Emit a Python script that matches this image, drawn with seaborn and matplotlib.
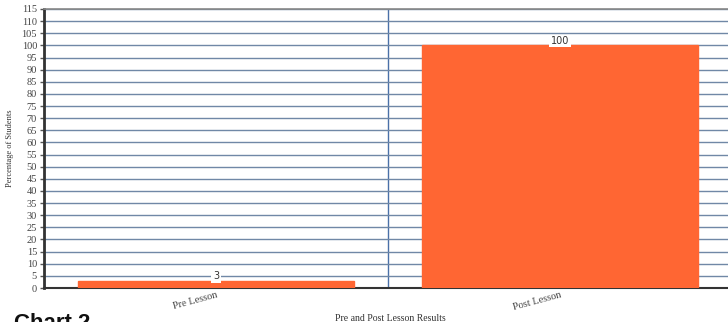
import matplotlib
matplotlib.use("Agg")
import matplotlib.pyplot as plt
import seaborn as sns
import pandas as pd

# Data
categories = ["Pre Lesson", "Post Lesson"]
percentages = [3, 100]
y_ticks = list(range(0, 120, 5))

df = pd.DataFrame({"Lesson": categories, "Percentage": percentages})

sns.set_theme(style="white")
plt.rcParams["font.family"] = ["Liberation Serif", "DejaVu Serif"]

fig = plt.figure(figsize=(7.28, 3.22), dpi=100)
ax = fig.add_axes([44 / 728, 34 / 322, 688 / 728, 279 / 322])

sns.barplot(data=df, x="Lesson", y="Percentage", color="#FF6633",
            saturation=1, width=0.8, ax=ax, zorder=3)
for p in ax.patches:
    p.set_edgecolor("#FF6633")

ax.set_xlim(-0.5, 1.5)
ax.set_ylim(0, 115)
ax.set_yticks(y_ticks)
ax.set_yticklabels([str(v) for v in y_ticks], fontsize=7.5, color="#444444")

# horizontal gridlines
ax.yaxis.grid(True, color="#7088a6", linewidth=1.0, zorder=0)
ax.set_axisbelow(True)

# category separators
ax.set_xticks([-0.5, 0.5, 1.5], minor=True)
ax.xaxis.grid(True, which="minor", color="#4a70a8", linewidth=1.0, zorder=0)
ax.tick_params(axis="x", which="minor", length=3, color="#555555", width=1)
ax.tick_params(axis="x", which="major", length=0, pad=2)
ax.tick_params(axis="y", which="major", length=3, color="#555555", width=1,
               left=True, pad=2)

ax.set_xticks(range(len(categories)))
ax.set_xticklabels(categories, rotation=15, ha="right", rotation_mode="anchor",
                   fontsize=7.5, color="#444444")

ax.spines["right"].set_visible(False)
ax.spines["top"].set_color("#888888")
ax.spines["top"].set_linewidth(1.2)
ax.spines["left"].set_color("#333333")
ax.spines["left"].set_linewidth(2)
ax.spines["bottom"].set_color("#333333")
ax.spines["bottom"].set_linewidth(1.5)

# value labels
for i, v in enumerate(percentages):
    ax.text(i, v + 1.8, str(v), ha="center", va="center", fontsize=7,
            family="DejaVu Sans", color="#333333", zorder=5,
            bbox=dict(boxstyle="square,pad=0.15", fc="white", ec="none"))

ax.set_xlabel("Pre and Post Lesson Results", fontsize=7, color="#333333")
ax.xaxis.set_label_coords(0.503, -0.092)
ax.set_ylabel("Percentage of Students", fontsize=6, color="#333333")
ax.yaxis.set_label_coords(-0.044, 0.5)

fig.text(14 / 728, 1 - 313 / 322, "Chart 2", fontsize=16, fontweight="bold",
         family="Liberation Sans", va="top", ha="left", color="#111111")

fig.savefig("out.png", dpi=100)
